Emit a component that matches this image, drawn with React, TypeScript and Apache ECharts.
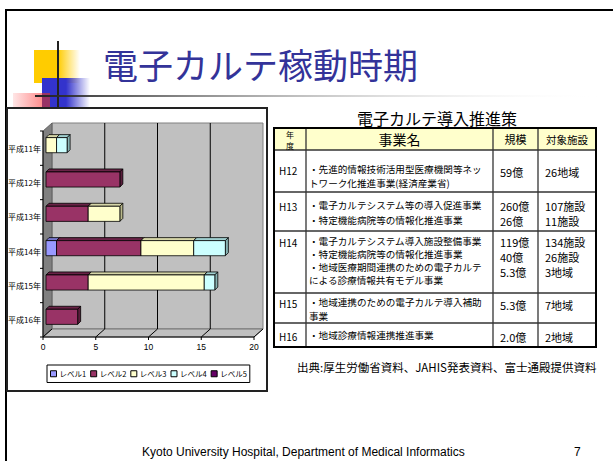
import React, { useEffect, useRef } from "react";
import * as echarts from "echarts";

// ---------- chart data ----------
const years = ["平成11年", "平成12年", "平成13年", "平成14年", "平成15年", "平成16年"];
const levelNames = ["レベル1", "レベル2", "レベル3", "レベル4", "レベル5"];
const level1 = [0, 0, 0, 1, 0, 0];
const level2 = [0, 7, 4, 8, 4, 3];
const level3 = [1, 0, 3, 5, 11, 0];
const level4 = [1, 0, 0, 3, 1, 0];
const level5 = [0, 0, 0, 0, 0, 0];
const xTicks = [0, 5, 10, 15, 20];

// ---------- table data ----------
const slideTitle = "電子カルテ稼動時期";
const tableTitle = "電子カルテ導入推進策";
const tableHeader = ["事業名", "規模", "対象施設"];
const headerYear = ["年", "度"];
const tableYears = ["H12", "H13", "H14", "H15", "H16"];
const tableProjects = [
  ["・先進的情報技術活用型医療機関等ネッ", "トワーク化推進事業(経済産業省)"],
  ["・電子カルテシステム等の導入促進事業", "・特定機能病院等の情報化推進事業"],
  [
    "・電子カルテシステム導入施設整備事業",
    "・特定機能病院等の情報化推進事業",
    "・地域医療期間連携のための電子カルテ",
    "による診療情報共有モデル事業",
  ],
  ["・地域連携のための電子カルテ導入補助", "事業"],
  ["・地域診療情報連携推進事業"],
];
const tableScale = [["59億"], ["260億", "26億"], ["119億", "40億", "5.3億"], ["5.3億"], ["2.0億"]];
const tableTargets = [["26地域"], ["107施設", "11施設"], ["134施設", "26施設", "3地域"], ["7地域"], ["2地域"]];
const sourceText = "出典:厚生労働省資料、JAHIS発表資料、富士通殿提供資料";
const footerText = "Kyoto University Hospital, Department of Medical Informatics";
const pageNumber = "7";

// ---------- styles / layout ----------
const CJK = '"Noto Sans CJK JP", sans-serif';
const LAT = '"Liberation Sans", Arial, sans-serif';
const barColors = ["#9999FF", "#993366", "#FFFFCC", "#CCFFFF", "#660066"];
const topColors = ["#7777CC", "#6A2347", "#D6D6A8", "#A0CFCF", "#4A004A"];
const sideColors = ["#6666AA", "#5A1D3C", "#B8B88A", "#88B3B3", "#3D003D"];
const WDX = 9, WDY = -8; // wall depth
const BO = 3; // bar offset into depth
const BD = 3; // bar depth

const colEdges = [274, 306, 493, 538, 596];
const rowEdges = [128, 150, 192, 231, 293, 323, 347];
const projY0 = [169, 205, 241, 302, 335];
const projGap = [14, 15, 13, 14, 0];
const valY0 = [172, 206, 242, 305, 337];
const valGap = [0, 15, 15, 0, 0];

function txt(text: string, x: number, y: number, size: number, opts: any = {}) {
  return {
    type: "text",
    x,
    y,
    silent: true,
    style: {
      text,
      fill: opts.fill || "#000",
      fontSize: size,
      fontFamily: opts.family || CJK,
      align: opts.align || "left",
      verticalAlign: "middle",
    },
  };
}

function buildGraphic() {
  const g: any[] = [];
  // slide border
  g.push({ type: "line", shape: { x1: 5, y1: 10, x2: 613, y2: 10 }, style: { stroke: "#000", lineWidth: 2 } });
  g.push({ type: "line", shape: { x1: 6, y1: 9, x2: 6, y2: 461 }, style: { stroke: "#000", lineWidth: 2 } });
  // decoration
  g.push({
    type: "rect",
    shape: { x: 34, y: 50, width: 46, height: 33 },
    style: {
      fill: new echarts.graphic.LinearGradient(0, 0, 1, 0, [
        { offset: 0, color: "#FFCC00" },
        { offset: 0.52, color: "#FFCC00" },
        { offset: 1, color: "rgba(255,204,0,0)" },
      ]),
    },
  });
  g.push({
    type: "rect",
    shape: { x: 13, y: 93, width: 30, height: 15 },
    style: {
      fill: new echarts.graphic.LinearGradient(0, 0, 1, 0, [
        { offset: 0, color: "#FFE6E6" },
        { offset: 1, color: "#FF8C8C" },
      ]),
    },
  });
  g.push({
    type: "rect",
    shape: { x: 42, y: 78, width: 48, height: 30 },
    style: {
      fill: new echarts.graphic.LinearGradient(0, 0, 1, 0, [
        { offset: 0, color: "#3333CC" },
        { offset: 0.5, color: "#3333CC" },
        { offset: 1, color: "rgba(51,51,204,0)" },
      ]),
    },
  });
  g.push({ type: "rect", shape: { x: 42, y: 93, width: 8, height: 15 }, style: { fill: "#993366" } });
  g.push({ type: "line", shape: { x1: 58, y1: 41, x2: 58, y2: 108 }, style: { stroke: "#222", lineWidth: 2 } });
  g.push({
    type: "rect",
    shape: { x: 35, y: 95, width: 565, height: 2 },
    style: {
      fill: new echarts.graphic.LinearGradient(0, 0, 1, 0, [
        { offset: 0, color: "#222" },
        { offset: 1, color: "rgba(255,255,255,0)" },
      ]),
    },
  });
  // title
  g.push(txt(slideTitle, 103, 63, 35, { fill: "#333399" }));
  // chart box
  g.push({ type: "rect", shape: { x: 7, y: 108, width: 260, height: 283 }, style: { fill: "#fff", stroke: "#222", lineWidth: 2 } });

  // table
  const L = colEdges[0], R = colEdges[colEdges.length - 1];
  const T = rowEdges[0], B = rowEdges[rowEdges.length - 1];
  g.push(txt(tableTitle, (L + R) / 2 + 2, 118, 16, { align: "center" }));
  g.push({ type: "rect", shape: { x: L, y: T, width: R - L, height: rowEdges[1] - T }, style: { fill: "#FFFFCC" } });
  for (let i = 1; i < colEdges.length - 1; i++) {
    g.push({ type: "line", shape: { x1: colEdges[i], y1: T, x2: colEdges[i], y2: B }, style: { stroke: "#333", lineWidth: 1.3 } });
  }
  for (let i = 1; i < rowEdges.length - 1; i++) {
    g.push({ type: "line", shape: { x1: L, y1: rowEdges[i], x2: R, y2: rowEdges[i] }, style: { stroke: "#333", lineWidth: 1.3 } });
  }
  g.push({ type: "rect", shape: { x: L, y: T, width: R - L, height: B - T }, style: { fill: "none", stroke: "#000", lineWidth: 2 } });
  // header texts
  const cx = (i: number) => (colEdges[i] + colEdges[i + 1]) / 2;
  g.push(txt(headerYear[0], cx(0), 134, 8, { align: "center" }));
  g.push(txt(headerYear[1], cx(0), 145, 8, { align: "center" }));
  g.push(txt(tableHeader[0], cx(1), 139, 14, { align: "center" }));
  g.push(txt(tableHeader[1], cx(2), 139, 11, { align: "center" }));
  g.push(txt(tableHeader[2], cx(3), 139, 10.5, { align: "center" }));
  // body
  tableYears.forEach((yr, r) => {
    g.push(txt(yr, colEdges[0] + 5, projY0[r] + 1, 10, { family: CJK }));
    tableProjects[r].forEach((line, k) => g.push(txt(line, colEdges[1] + 3, projY0[r] + k * projGap[r], 9.6)));
    tableScale[r].forEach((v, k) => g.push(txt(v, colEdges[2] + 7, valY0[r] + k * valGap[r], 11)));
    tableTargets[r].forEach((v, k) => g.push(txt(v, colEdges[3] + 7, valY0[r] + k * valGap[r], 11)));
  });
  g.push(txt(sourceText, 297, 367, 11.5));
  // footer
  g.push(txt(footerText, 142, 452, 12, { family: LAT }));
  g.push(txt(pageNumber, 574, 452, 12, { family: LAT }));
  return g;
}

const levels = [level1, level2, level3, level4, level5];
const stackData = levels.map((arr, li) =>
  arr.map((v, ci) => {
    const s = levels.slice(0, li).reduce((a, l) => a + l[ci], 0);
    return [s, s + v, ci];
  })
);

function wallRender(params: any, api: any) {
  const cs = params.coordSys;
  const L = cs.x, T = cs.y, W = cs.width, H = cs.height;
  const B = T + H, R = L + W;
  const band = api.size([0, 1])[1];
  const ch: any[] = [];
  ch.push({ type: "rect", shape: { x: L + WDX, y: T + WDY, width: W, height: H }, style: { fill: "#C0C0C0", stroke: "#808080", lineWidth: 1 } });
  ch.push({
    type: "polygon",
    shape: { points: [[L, T], [L + WDX, T + WDY], [L + WDX, B + WDY], [L, B]] },
    style: { fill: "#808080", stroke: "#555", lineWidth: 0.8 },
  });
  ch.push({
    type: "polygon",
    shape: { points: [[L, B], [L + WDX, B + WDY], [R + WDX, B + WDY], [R, B]] },
    style: { fill: "#C0C0C0", stroke: "#666", lineWidth: 0.8 },
  });
  xTicks.forEach((v) => {
    const x = api.coord([v, 0])[0];
    if (v > xTicks[0] && v < xTicks[xTicks.length - 1]) {
      ch.push({ type: "line", shape: { x1: x + WDX, y1: T + WDY, x2: x + WDX, y2: B + WDY }, style: { stroke: "#000", lineWidth: 1 } });
    }
    ch.push({ type: "line", shape: { x1: x, y1: B, x2: x + WDX, y2: B + WDY }, style: { stroke: "#000", lineWidth: 1 } });
    ch.push({ type: "line", shape: { x1: x, y1: B, x2: x, y2: B + 3 }, style: { stroke: "#000", lineWidth: 1 } });
  });
  ch.push({ type: "line", shape: { x1: L, y1: B, x2: R, y2: B }, style: { stroke: "#000", lineWidth: 1 } });
  ch.push({ type: "line", shape: { x1: L, y1: T, x2: L, y2: B }, style: { stroke: "#000", lineWidth: 1 } });
  for (let i = 0; i <= years.length; i++) {
    const y = T + i * band;
    ch.push({ type: "line", shape: { x1: L - 3, y1: y, x2: L, y2: y }, style: { stroke: "#000", lineWidth: 1 } });
  }
  return { type: "group", children: ch };
}

function makeBarRender(li: number) {
  return (params: any, api: any) => {
    const s = api.value(0), e = api.value(1), c = api.value(2);
    if (!(e > s)) return { type: "group", children: [] };
    const p0 = api.coord([s, c]);
    const p1 = api.coord([e, c]);
    const band = api.size([0, 1])[1];
    const h = band * 0.44;
    const x0 = p0[0] + BO, x1 = p1[0] + BO;
    const yT = p0[1] - BO - h / 2, yB = yT + h;
    return {
      type: "group",
      children: [
        {
          type: "polygon",
          shape: { points: [[x0, yT], [x0 + BD, yT - BD], [x1 + BD, yT - BD], [x1, yT]] },
          style: { fill: topColors[li], stroke: "#000", lineWidth: 0.8 },
        },
        {
          type: "polygon",
          shape: { points: [[x1, yT], [x1 + BD, yT - BD], [x1 + BD, yB - BD], [x1, yB]] },
          style: { fill: sideColors[li], stroke: "#000", lineWidth: 0.8 },
        },
        {
          type: "rect",
          shape: { x: x0, y: yT, width: x1 - x0, height: h },
          style: { fill: barColors[li], stroke: "#000", lineWidth: 0.8 },
        },
      ],
    };
  };
}

export default function App() {
  const ref = useRef<HTMLDivElement>(null);
  useEffect(() => {
    const chart = echarts.init(ref.current!, null, { renderer: "svg" });
    const option: any = {
      animation: false,
      backgroundColor: "#fff",
      textStyle: { fontFamily: CJK },
      graphic: buildGraphic(),
      grid: { left: 43, top: 131, width: 211, height: 206, containLabel: false },
      xAxis: {
        type: "value",
        min: xTicks[0],
        max: xTicks[xTicks.length - 1],
        interval: 5,
        axisLine: { show: false },
        axisTick: { show: false },
        splitLine: { show: false },
        axisLabel: { fontSize: 8.5, color: "#000", margin: 5, fontFamily: LAT },
      },
      yAxis: {
        type: "category",
        data: years,
        inverse: true,
        axisLine: { show: false },
        axisTick: { show: false },
        splitLine: { show: false },
        axisLabel: { fontSize: 8, color: "#000", margin: 2, fontFamily: CJK },
      },
      legend: {
        left: 47,
        top: 365,
        orient: "horizontal",
        padding: [5, 3],
        itemGap: 4,
        itemWidth: 6,
        itemHeight: 6,
        backgroundColor: "#fff",
        borderColor: "#000",
        borderWidth: 1,
        borderRadius: 0,
        textStyle: { fontSize: 7.5, color: "#000", fontFamily: CJK, padding: [0, 0, 0, -2] },
        data: levelNames.map((n) => ({ name: n, icon: "rect", itemStyle: { borderColor: "#000", borderWidth: 1 } })),
      },
      series: [
        {
          type: "custom",
          name: "wall",
          renderItem: wallRender,
          data: [[0, 0]],
          encode: { x: 0, y: 1 },
          silent: true,
          clip: false,
          z: 1,
        },
        ...levelNames.map((n, li) => ({
          type: "custom",
          name: n,
          renderItem: makeBarRender(li),
          data: stackData[li],
          encode: { x: [0, 1], y: 2 },
          itemStyle: { color: barColors[li] },
          clip: false,
          z: 2,
        })),
      ],
    };
    chart.setOption(option);
    return () => chart.dispose();
  }, []);
  return (
    <div
      ref={ref}
      style={{ position: "fixed", left: 0, top: 0, width: 613, height: 461, background: "#fff" }}
    />
  );
}
